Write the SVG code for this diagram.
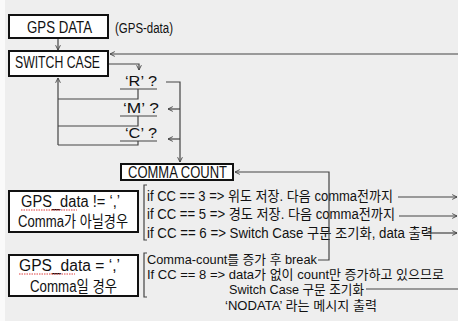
<svg xmlns="http://www.w3.org/2000/svg" width="458" height="321" viewBox="0 0 458 321">
<style>
.bg{fill:#eeeeee}
.box{fill:#ffffff;stroke:#111111;stroke-width:2}
.ln{fill:none;stroke:#444444;stroke-width:1.2}
.hd{font-family:"Liberation Sans","Noto Sans CJK KR",sans-serif;font-size:17px;fill:#111111}
.bt{font-family:"Liberation Sans","Noto Sans CJK KR",sans-serif;font-size:16px;fill:#111111}
.tx{font-family:"Liberation Sans","Noto Sans CJK KR",sans-serif;font-size:14px;fill:#111111}
.tl{font-family:"Liberation Sans","Noto Sans CJK KR",sans-serif;font-size:13px;fill:#111111}
.sq{fill:none;stroke:#e04040;stroke-width:1;stroke-dasharray:1.5 1}
</style>
<defs>
<marker id="ah" viewBox="0 0 10 10" refX="9" refY="5" markerWidth="6" markerHeight="6" orient="auto" markerUnits="userSpaceOnUse">
<path d="M1,1 L9,5 L1,9" fill="none" stroke="#444444" stroke-width="1.5"/>
</marker>
</defs>
<rect class="bg" x="0" y="0" width="458" height="321"/>
<rect x="0" y="0" width="5" height="321" fill="#fafafa"/>

<g id="gps-data">
<rect class="box" x="9" y="15" width="99" height="23"/>
<text class="hd" x="27" y="33" textLength="65" lengthAdjust="spacingAndGlyphs">GPS DATA</text>
<text class="tx" x="115" y="33" font-size="13" textLength="58" lengthAdjust="spacingAndGlyphs">(GPS-data)</text>
</g>

<g id="switch-case">
<rect class="box" x="9" y="51" width="99" height="25"/>
<text class="hd" x="15" y="68" textLength="85" lengthAdjust="spacingAndGlyphs">SWITCH CASE</text>
</g>

<g id="case-r">
<text class="tx" x="125" y="86" textLength="32" lengthAdjust="spacingAndGlyphs">‘R’ ?</text>
</g>
<g id="case-m">
<text class="tx" x="123" y="113" textLength="36" lengthAdjust="spacingAndGlyphs">‘M’ ?</text>
</g>
<g id="case-c">
<text class="tx" x="125" y="138" textLength="32" lengthAdjust="spacingAndGlyphs">‘C’ ?</text>
</g>

<g id="comma-count">
<rect class="box" x="121" y="164" width="112" height="16"/>
<text class="hd" x="128" y="177.5" font-size="15" textLength="99" lengthAdjust="spacingAndGlyphs">COMMA COUNT</text>
</g>

<g id="not-comma">
<rect class="box" x="9" y="191" width="129" height="41"/>
<text class="bt" x="21" y="207" textLength="99" lengthAdjust="spacingAndGlyphs">GPS_data != ‘,’</text>
<path class="sq" d="M21,210 H77"/>
<text class="bt" x="18" y="227" textLength="110" lengthAdjust="spacingAndGlyphs">Comma가 아닐경우</text>
</g>

<g id="is-comma">
<rect class="box" x="9" y="255" width="129" height="41"/>
<text class="bt" x="19" y="271" textLength="101" lengthAdjust="spacingAndGlyphs">GPS_data = ‘,’</text>
<path class="sq" d="M19,274 H75"/>
<text class="bt" x="30" y="292" textLength="87" lengthAdjust="spacingAndGlyphs">Comma일 경우</text>
</g>

<g id="not-comma-actions">
<path class="ln" d="M147,185 H144 V240 H147"/>
<text class="tx" x="147" y="201" textLength="246" lengthAdjust="spacingAndGlyphs">if CC == 3 =&gt; 위도 저장. 다음 comma전까지</text>
<text class="tx" x="147" y="219" textLength="248" lengthAdjust="spacingAndGlyphs">if CC == 5 =&gt; 경도 저장. 다음 comma전까지</text>
<text class="tx" x="147" y="238" textLength="286" lengthAdjust="spacingAndGlyphs">if CC == 6 =&gt; Switch Case 구문 조기화, data 출력</text>
</g>

<g id="comma-actions">
<path class="ln" d="M147,253 H144 V297 H147"/>
<text class="tl" x="147" y="264" textLength="170" lengthAdjust="spacingAndGlyphs">Comma-count를 증가 후 break</text>
<text class="tl" x="147" y="279" textLength="297" lengthAdjust="spacingAndGlyphs">If CC == 8 =&gt; data가 없이 count만 증가하고 있으므로</text>
<text class="tl" x="229" y="294" textLength="135" lengthAdjust="spacingAndGlyphs">Switch Case 구문 조기화</text>
<text class="tl" x="225" y="310" textLength="152" lengthAdjust="spacingAndGlyphs">‘NODATA’ 라는 메시지 출력</text>
</g>

<g id="connectors">
<path class="ln" d="M58,39 V50" marker-end="url(#ah)"/>
<path class="ln" d="M458,54 H110" marker-end="url(#ah)"/>
<path class="ln" d="M109,64 H139 V70" marker-end="url(#ah)"/>
<path class="ln" d="M120,89 H157 M138,89 V99 H58"/>
<path class="ln" d="M120,116 H157 M138,116 V126 H58"/>
<path class="ln" d="M120,141 H157 M138,141 V145 H58"/>
<path class="ln" d="M58,145 V78" marker-end="url(#ah)"/>
<path class="ln" d="M166,82 H180 V162" marker-end="url(#ah)"/>
<path class="ln" d="M180,109 H168" marker-end="url(#ah)"/>
<path class="ln" d="M180,139 H168" marker-end="url(#ah)"/>
<path class="ln" d="M318,260 H329 V172 H235" marker-end="url(#ah)"/>
<path class="ln" d="M398,197 H457" marker-end="url(#ah)"/>
<path class="ln" d="M399,216 H457" marker-end="url(#ah)"/>
<path class="ln" d="M426,233 H457" marker-end="url(#ah)"/>
<path class="ln" d="M366,289 H458"/>
</g>
</svg>
